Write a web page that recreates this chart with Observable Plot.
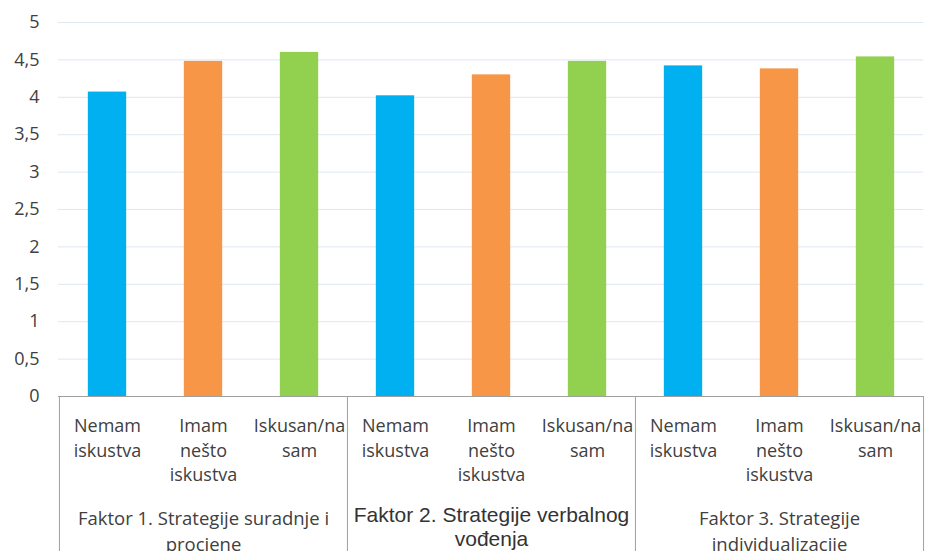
<!DOCTYPE html>
<html><head><meta charset="utf-8">
<script src="https://cdn.jsdelivr.net/npm/d3@7"></script>
<script src="https://cdn.jsdelivr.net/npm/@observablehq/plot@0.6"></script>
<style>body{margin:0;background:#fff}</style>
</head><body><div id="chart"></div>
<script>
const groupLabels = ["Faktor 1. Strategije suradnje i\nprocjene", "Faktor 2. Strategije verbalnog\nvođenja", "Faktor 3. Strategije\nindividualizacije"];
const categories = ["Nemam iskustva", "Imam nešto iskustva", "Iskusan/na sam"];
const categoryLabels = ["Nemam\niskustva", "Imam\nnešto\niskustva", "Iskusan/na\nsam"];
const nemam = [4.07, 4.02, 4.42];
const imam = [4.48, 4.30, 4.38];
const iskusan = [4.60, 4.48, 4.54];
const colors = ["#00b0f0", "#f79646", "#92d050"];
const yTicks = [0, 0.5, 1, 1.5, 2, 2.5, 3, 3.5, 4, 4.5, 5];

const series = [nemam, imam, iskusan];
const data = groupLabels.flatMap((g, gi) => categories.map((c, ci) => ({
  key: gi + "|" + ci, gi, ci, group: g, cat: c, label: categoryLabels[ci], value: series[ci][gi]
})));
const keys = data.map(d => d.key);

const W = 928, H = 551, ML = 58, MR = 5, MT = 22, MB = 155;
const step = (W - ML - MR) / keys.length;
const plotH = H - MT - MB;
const lineColor = "#a0a0a0";
const textColor = "#404040";

const chart = Plot.plot({
  width: W, height: H,
  marginLeft: ML, marginRight: MR, marginTop: MT, marginBottom: MB,
  style: {fontFamily: "'Open Sans', sans-serif", fontSize: "18px", color: textColor, background: "#fff"},
  x: {domain: keys, padding: 0, axis: null},
  y: {domain: [0, 5], ticks: yTicks, tickFormat: d => String(d).replace(".", ","), tickSize: 0, tickPadding: 19, label: null},
  color: {domain: categories, range: colors},
  marks: [
    Plot.ruleY(yTicks.slice(1), {stroke: "#dfe7f1", strokeWidth: 1}),
    Plot.barY(data, {x: "key", y: "value", fill: "cat", insetLeft: step * 0.3, insetRight: step * 0.3}),
    Plot.ruleY([0], {stroke: lineColor}),
    Plot.ruleX(data.filter(d => d.ci === 0), {x: "key", dx: -step / 2, insetTop: plotH, insetBottom: -MB, stroke: lineColor}),
    Plot.ruleX(data.filter(d => d.gi === 2 && d.ci === 2), {x: "key", dx: step / 2, insetTop: plotH, insetBottom: -MB, stroke: lineColor}),
    Plot.text(data, {x: "key", text: "label", frameAnchor: "bottom", lineAnchor: "top", dy: 18, lineHeight: 1.37, fill: textColor, fontSize: 18}),
    Plot.text(data.filter(d => d.ci === 1 && d.gi !== 1), {x: "key", text: "group", frameAnchor: "bottom", lineAnchor: "top", dy: 110, lineHeight: 1.42, fill: textColor, fontSize: 18.5}),
    Plot.text(data.filter(d => d.ci === 1 && d.gi === 1), {x: "key", text: "group", frameAnchor: "bottom", lineAnchor: "top", dy: 108, lineHeight: 1.15, fill: "#333333", fontSize: 21, fontFamily: "'Liberation Sans', Arial, sans-serif"})
  ]
});
document.getElementById("chart").append(chart);
</script>
</body></html>
